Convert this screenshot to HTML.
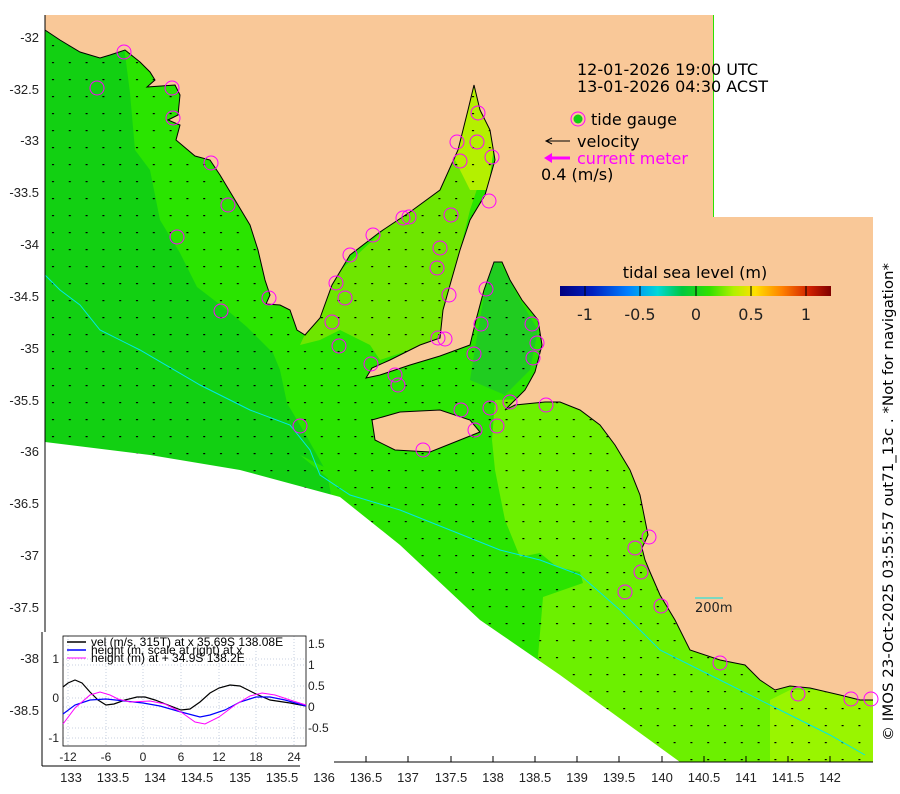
<!DOCTYPE html>
<html><head><meta charset="utf-8"><style>
html,body{margin:0;padding:0;background:#fff;}
svg{display:block;font-family:"Liberation Sans","DejaVu Sans",sans-serif;}
.dj{font-family:"DejaVu Sans","Liberation Sans",sans-serif;}
</style></head><body>
<svg width="900" height="794" viewBox="0 0 900 794" xmlns="http://www.w3.org/2000/svg">
<defs>
<pattern id="vel" x="45" y="20" width="16.8" height="17" patternUnits="userSpaceOnUse">
<rect x="7" y="8" width="2" height="1.2" fill="#000"/>
</pattern>
<linearGradient id="cb" x1="0" x2="1" y1="0" y2="0">
<stop offset="0" stop-color="#00007f"/><stop offset="0.12" stop-color="#0020c0"/>
<stop offset="0.25" stop-color="#0080ff"/><stop offset="0.36" stop-color="#00d8d8"/>
<stop offset="0.45" stop-color="#00c840"/><stop offset="0.55" stop-color="#30e000"/>
<stop offset="0.64" stop-color="#b0f000"/><stop offset="0.72" stop-color="#ffe000"/>
<stop offset="0.82" stop-color="#ff8000"/><stop offset="0.92" stop-color="#d02000"/>
<stop offset="1" stop-color="#800000"/></linearGradient>
</defs>
<rect x="45" y="15" width="828" height="747" fill="#12d012"/>
<polygon fill="#2ae400" points="120,15 130,93 135,150 150,170 160,220 180,253 197,287 227,310 247,327 273,353 280,370 287,403 307,437 327,473 332,500 420,600 600,762 873,762 873,15"/>
<polygon fill="#2ae400" points="300,455 330,470 345,500 400,545 480,620 545,668 560,600 540,560 480,530 400,500 330,480"/>
<polygon fill="#6cf000" points="495,400 492,440 495,470 505,520 520,557 540,553 557,567 580,572 583,583 543,597 538,657 560,700 640,762 873,762 873,390"/>
<polygon fill="#99f500" points="770,762 770,700 790,690 873,690 873,762"/>
<polygon fill="#6ee600" points="300,345 330,280 400,215 460,140 475,85 490,150 470,210 450,290 440,340 380,360 370,345 340,330 320,340"/>
<polygon fill="#b4f000" points="465,110 475,85 495,140 488,190 470,190 455,160"/>
<polygon fill="#20cc20" points="478,330 490,262 500,262 520,300 538,330 530,370 505,395 470,380"/>
<rect x="45" y="15" width="828" height="747" fill="url(#vel)"/>
<polyline fill="none" stroke="#00e8e8" stroke-width="1" points="45,275 60,290 80,305 100,330 140,350 200,385 250,410 290,425 310,450 320,475 350,495 400,510 450,530 500,550 540,560 580,575 620,610 660,650 720,680 780,710 830,735 865,755"/>
<polygon fill="#f9c898" points="45,30 60,40 80,52 100,58 110,55 125,50 140,62 150,72 155,80 147,87 175,85 180,95 178,115 168,120 180,125 176,140 195,156 210,160 220,175 235,200 250,225 258,250 265,280 270,295 266,304 280,305 290,310 297,330 305,335 320,318 332,285 350,255 380,232 410,212 440,190 458,150 468,110 474,85 480,110 490,130 495,160 485,195 470,220 460,250 450,285 443,310 440,338 420,345 390,360 372,368 366,378 380,375 410,365 440,356 470,345 476,320 484,290 494,262 502,262 510,280 522,300 538,320 542,345 535,372 525,390 505,410 515,405 545,402 560,402 580,410 600,425 615,445 630,470 640,495 645,520 648,535 642,548 645,560 650,572 660,595 675,620 690,650 720,660 745,665 760,680 775,690 790,686 810,688 840,695 860,700 873,700 873,217 713,217 713,15 45,15"/>
<polyline fill="none" stroke="#000" stroke-width="1" points="45,30 60,40 80,52 100,58 110,55 125,50 140,62 150,72 155,80 147,87 175,85 180,95 178,115 168,120 180,125 176,140 195,156 210,160 220,175 235,200 250,225 258,250 265,280 270,295 266,304 280,305 290,310 297,330 305,335 320,318 332,285 350,255 380,232 410,212 440,190 458,150 468,110 474,85 480,110 490,130 495,160 485,195 470,220 460,250 450,285 443,310 440,338 420,345 390,360 372,368 366,378 380,375 410,365 440,356 470,345 476,320 484,290 494,262 502,262 510,280 522,300 538,320 542,345 535,372 525,390 505,410 515,405 545,402 560,402 580,410 600,425 615,445 630,470 640,495 645,520 648,535 642,548 645,560 650,572 660,595 675,620 690,650 720,660 745,665 760,680 775,690 790,686 810,688 840,695 860,700 873,700"/>
<polygon fill="#f9c898" stroke="#000" stroke-width="1" points="372,420 400,412 440,410 470,420 480,432 455,442 430,452 395,450 375,440"/>
<rect x="714" y="0" width="186" height="217" fill="#fff"/>
<rect x="874" y="0" width="26" height="794" fill="#fff"/>
<polygon fill="#fff" points="45,442 150,455 240,470 340,497 400,545 480,620 560,675 680,762 45,762"/>
<g fill="none" stroke="#ff00ff" stroke-width="1">
<circle cx="124" cy="52" r="7"/><circle cx="97" cy="88" r="7"/><circle cx="172" cy="88" r="7"/><circle cx="177" cy="237" r="7"/><circle cx="173" cy="118" r="7"/><circle cx="211" cy="163" r="7"/><circle cx="228" cy="205" r="7"/><circle cx="221" cy="311" r="7"/><circle cx="269" cy="298" r="7"/><circle cx="300" cy="426" r="7"/>
<circle cx="336" cy="283" r="7"/><circle cx="345" cy="298" r="7"/><circle cx="332" cy="322" r="7"/><circle cx="339" cy="346" r="7"/><circle cx="350" cy="255" r="7"/><circle cx="373" cy="235" r="7"/><circle cx="403" cy="218" r="7"/><circle cx="409" cy="217" r="7"/><circle cx="440" cy="248" r="7"/><circle cx="451" cy="215" r="7"/><circle cx="437" cy="268" r="7"/><circle cx="449" cy="295" r="7"/><circle cx="438" cy="338" r="7"/><circle cx="460" cy="161" r="7"/><circle cx="489" cy="201" r="7"/><circle cx="477" cy="142" r="7"/><circle cx="492" cy="157" r="7"/><circle cx="457" cy="142" r="7"/><circle cx="478" cy="113" r="7"/>
<circle cx="371" cy="364" r="7"/><circle cx="398" cy="385" r="7"/><circle cx="395" cy="375" r="7"/><circle cx="445" cy="339" r="7"/><circle cx="486" cy="289" r="7"/><circle cx="481" cy="324" r="7"/><circle cx="474" cy="354" r="7"/><circle cx="532" cy="324" r="7"/><circle cx="537" cy="343" r="7"/><circle cx="533" cy="358" r="7"/><circle cx="510" cy="402" r="7"/><circle cx="490" cy="408" r="7"/><circle cx="461" cy="410" r="7"/><circle cx="475" cy="430" r="7"/><circle cx="497" cy="426" r="7"/><circle cx="423" cy="450" r="7"/><circle cx="546" cy="405" r="7"/>
<circle cx="649" cy="537" r="7"/><circle cx="635" cy="548" r="7"/><circle cx="641" cy="572" r="7"/><circle cx="625" cy="592" r="7"/><circle cx="661" cy="606" r="7"/><circle cx="720" cy="663" r="7"/><circle cx="798" cy="694" r="7"/><circle cx="851" cy="699" r="7"/><circle cx="871" cy="699" r="7"/>
</g>
<line x1="45" y1="15" x2="45" y2="762" stroke="#000"/>
<line x1="45" y1="762" x2="873" y2="762" stroke="#000"/>
<g stroke="#000">
<line x1="71" y1="762" x2="71" y2="756"/><line x1="113" y1="762" x2="113" y2="756"/><line x1="155" y1="762" x2="155" y2="756"/><line x1="197" y1="762" x2="197" y2="756"/><line x1="240" y1="762" x2="240" y2="756"/><line x1="282" y1="762" x2="282" y2="756"/><line x1="324" y1="762" x2="324" y2="756"/><line x1="366" y1="762" x2="366" y2="756"/><line x1="408" y1="762" x2="408" y2="756"/><line x1="451" y1="762" x2="451" y2="756"/><line x1="493" y1="762" x2="493" y2="756"/><line x1="535" y1="762" x2="535" y2="756"/><line x1="577" y1="762" x2="577" y2="756"/><line x1="619" y1="762" x2="619" y2="756"/><line x1="662" y1="762" x2="662" y2="756"/><line x1="704" y1="762" x2="704" y2="756"/><line x1="746" y1="762" x2="746" y2="756"/><line x1="788" y1="762" x2="788" y2="756"/><line x1="830" y1="762" x2="830" y2="756"/>
</g>
<g font-size="13" text-anchor="middle" fill="#222">
<text x="71" y="782">133</text><text x="113" y="782">133.5</text><text x="155" y="782">134</text><text x="197" y="782">134.5</text><text x="240" y="782">135</text><text x="282" y="782">135.5</text><text x="324" y="782">136</text><text x="366" y="782">136.5</text><text x="408" y="782">137</text><text x="451" y="782">137.5</text><text x="493" y="782">138</text><text x="535" y="782">138.5</text><text x="577" y="782">139</text><text x="619" y="782">139.5</text><text x="662" y="782">140</text><text x="704" y="782">140.5</text><text x="746" y="782">141</text><text x="788" y="782">141.5</text><text x="830" y="782">142</text>
</g>
<g font-size="13" text-anchor="end" fill="#222">
<text x="39" y="42">-32</text><text x="39" y="94">-32.5</text><text x="39" y="145">-33</text><text x="39" y="197">-33.5</text><text x="39" y="249">-34</text><text x="39" y="301">-34.5</text><text x="39" y="353">-35</text><text x="39" y="405">-35.5</text><text x="39" y="456">-36</text><text x="39" y="508">-36.5</text><text x="39" y="560">-37</text><text x="39" y="612">-37.5</text><text x="39" y="663">-38</text><text x="39" y="715">-38.5</text>
</g>
<g font-size="16" fill="#000" class="dj">
<text x="577" y="75">12-01-2026 19:00 UTC</text>
<text x="577" y="92">13-01-2026 04:30 ACST</text>
<text x="591" y="125">tide gauge</text>
<text x="577" y="147">velocity</text>
<text x="577" y="164" fill="#ff00ff">current meter</text>
<text x="541" y="180">0.4 (m/s)</text>
<text x="695" y="278" text-anchor="middle">tidal sea level (m)</text>
</g>
<circle cx="578" cy="119" r="7" fill="none" stroke="#ff00ff"/><circle cx="578" cy="119" r="4.5" fill="#12d012"/>
<line x1="547" y1="141" x2="570" y2="141" stroke="#000"/><polyline points="552,138 546,141 552,144" fill="none" stroke="#000"/>
<line x1="549" y1="158" x2="570" y2="158" stroke="#ff00ff" stroke-width="3"/><polygon points="544,158 552,153 552,163" fill="#ff00ff"/>
<rect x="560" y="286" width="271" height="10" fill="url(#cb)"/>
<g stroke="#000"><line x1="585" y1="286" x2="585" y2="296"/><line x1="640" y1="286" x2="640" y2="296"/><line x1="696" y1="286" x2="696" y2="296"/><line x1="751" y1="286" x2="751" y2="296"/><line x1="806" y1="286" x2="806" y2="296"/></g>
<g font-size="16" text-anchor="middle" fill="#222" class="dj"><text x="585" y="320">-1</text><text x="640" y="320">-0.5</text><text x="696" y="320">0</text><text x="751" y="320">0.5</text><text x="806" y="320">1</text></g>
<line x1="695" y1="598" x2="723" y2="598" stroke="#00e8e8"/>
<text x="695" y="612" font-size="13" fill="#222" class="dj">200m</text>
<text transform="translate(893,502) rotate(-90)" text-anchor="middle" font-size="14" fill="#000" class="dj" textLength="478" lengthAdjust="spacingAndGlyphs">© IMOS 23-Oct-2025 03:55:57 out71_13c . *Not for navigation*</text>
<rect x="42" y="632" width="292" height="133" fill="#fff"/>
<line x1="42" y1="632" x2="42" y2="766" stroke="#000"/><line x1="42" y1="766" x2="300" y2="766" stroke="#000"/>
<g stroke="#b8c4d8" stroke-width="0.8" stroke-dasharray="1,2">
<line x1="68" y1="636" x2="68" y2="746"/><line x1="106" y1="636" x2="106" y2="746"/><line x1="143" y1="636" x2="143" y2="746"/><line x1="181" y1="636" x2="181" y2="746"/><line x1="219" y1="636" x2="219" y2="746"/><line x1="256" y1="636" x2="256" y2="746"/><line x1="294" y1="636" x2="294" y2="746"/>
<line x1="63" y1="659" x2="306" y2="659"/><line x1="63" y1="698" x2="306" y2="698"/><line x1="63" y1="738" x2="306" y2="738"/>
<line x1="63" y1="686" x2="306" y2="686"/><line x1="63" y1="707" x2="306" y2="707"/><line x1="63" y1="665" x2="306" y2="665"/><line x1="63" y1="728" x2="306" y2="728"/>
</g>
<rect x="63" y="636" width="243" height="110" fill="none" stroke="#000" stroke-width="0.8"/>
<polyline fill="none" stroke="#000" stroke-width="1.2" points="63,687 68,683 75,680 82,683 90,692 98,700 106,705 114,704 125,700 137,697 145,697 155,700 168,705 181,710 190,709 200,702 210,693 219,688 230,685 240,686 256,694 270,700 290,703 306,706"/>
<polyline fill="none" stroke="#0000ff" stroke-width="1.2" points="63,714 75,705 90,700 106,699 125,701 143,703 160,706 181,712 200,717 210,715 225,710 240,702 256,697 270,697 285,700 306,706"/>
<polyline fill="none" stroke="#ff00ff" stroke-width="1" points="63,724 75,708 90,695 100,692 110,695 118,699 130,702 150,701 165,704 181,712 195,722 205,724 219,717 235,705 250,696 262,693 275,695 290,700 306,705"/>
<line x1="67" y1="642" x2="86" y2="642" stroke="#000" stroke-width="1.5"/><line x1="67" y1="650" x2="86" y2="650" stroke="#0000ff" stroke-width="1.5"/><line x1="67" y1="658" x2="86" y2="658" stroke="#ff00ff"/>
<g font-size="12" fill="#000"><text x="91" y="646">vel (m/s, 315T) at x 35.69S 138.08E</text><text x="91" y="654">height (m, scale at right) at x</text><text x="91" y="662">height (m) at + 34.9S 138.2E</text></g>
<g font-size="12" fill="#222" text-anchor="middle"><text x="68" y="761">-12</text><text x="106" y="761">-6</text><text x="143" y="761">0</text><text x="181" y="761">6</text><text x="219" y="761">12</text><text x="256" y="761">18</text><text x="294" y="761">24</text></g>
<g font-size="12" fill="#222" text-anchor="end"><text x="59" y="663">1</text><text x="59" y="702">0</text><text x="59" y="742">-1</text></g>
<g font-size="12" fill="#222"><text x="308" y="648">1.5</text><text x="308" y="669">1</text><text x="308" y="690">0.5</text><text x="308" y="711">0</text><text x="308" y="732">-0.5</text></g>
</svg>
</body></html>
